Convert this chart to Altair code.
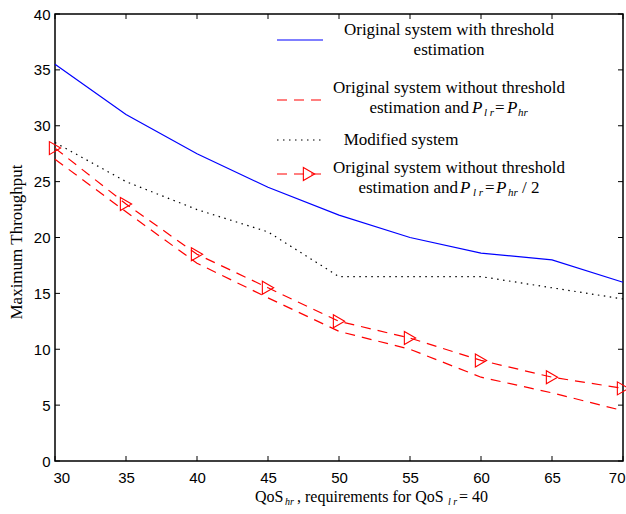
import altair as alt
import pandas as pd

# ---- data ----
qos_hr = [30, 35, 40, 45, 50, 55, 60, 65, 70]
thr_est = [35.5, 31.0, 27.5, 24.5, 22.0, 20.0, 18.6, 18.0, 16.0]
modified = [28.5, 25.0, 22.5, 20.5, 16.5, 16.5, 16.5, 15.5, 14.5]
no_thr_eq = [27.0, 22.3, 17.7, 14.6, 11.6, 10.0, 7.5, 6.1, 4.5]
no_thr_half = [28.0, 23.0, 18.5, 15.5, 12.5, 11.0, 9.0, 7.5, 6.5]
x_ticks = [30, 35, 40, 45, 50, 55, 60, 65, 70]
y_ticks = [0, 5, 10, 15, 20, 25, 30, 35, 40]

W, H = 568, 447
SERIF = "Liberation Serif"
SANS = "Liberation Sans"

df = pd.DataFrame({"x": qos_hr, "blue": thr_est, "mod": modified,
                   "eq": no_thr_eq, "half": no_thr_half})
xt = pd.DataFrame({"x": x_ticks})
yt = pd.DataFrame({"y": y_ticks})
one = pd.DataFrame({"t": [0]})

xs = alt.Scale(domain=[30, 70], nice=False)
ys = alt.Scale(domain=[0, 40], nice=False)
xaxis = alt.Axis(values=x_ticks, ticks=False, domain=False, grid=False,
                 labelFont=SANS, labelFontSize=15, labelColor="black",
                 labelPadding=9, labelFlush=True, labelFlushOffset=2, title="")
yaxis = alt.Axis(values=y_ticks, ticks=False, domain=False, grid=False,
                 labelFont=SANS, labelFontSize=15, labelColor="black",
                 labelPadding=5, title="")


def X(f="x"):
    return alt.X(f"{f}:Q", scale=xs, axis=xaxis)


def Y(f):
    return alt.Y(f"{f}:Q", scale=ys, axis=yaxis)


base = alt.Chart(df)
blue = base.mark_line(color="#0000ff", strokeWidth=1.2).encode(x=X(), y=Y("blue"))
mod = base.mark_line(color="black", strokeWidth=1.2, strokeDash=[1.5, 4.5]).encode(x=X(), y=Y("mod"))
eq = base.mark_line(color="#ff0000", strokeWidth=1.2, strokeDash=[10, 7]).encode(x=X(), y=Y("eq"))
half = base.mark_line(color="#ff0000", strokeWidth=1.2, strokeDash=[10, 7]).encode(x=X(), y=Y("half"))
half_pts = base.mark_point(shape="triangle-right", filled=False, color="#ff0000",
                           size=170, strokeWidth=1.1, opacity=1).encode(x=X(), y=Y("half"))

# inward ticks on all four sides
tb = alt.Chart(xt).mark_rule(color="black", strokeWidth=1).encode(x=X(), y=alt.value(H), y2=alt.value(H - 5))
tt = alt.Chart(xt).mark_rule(color="black", strokeWidth=1).encode(x=X(), y=alt.value(0), y2=alt.value(5))
tl = alt.Chart(yt).mark_rule(color="black", strokeWidth=1).encode(y=Y("y"), x=alt.value(0), x2=alt.value(5))
tr = alt.Chart(yt).mark_rule(color="black", strokeWidth=1).encode(y=Y("y"), x=alt.value(W), x2=alt.value(W - 5))


def txt(s, x, y, size=17, style="normal", align="left", dy=0, angle=0):
    return alt.Chart(one).mark_text(text=s, font=SERIF, fontSize=size, fontStyle=style,
                                    align=align, baseline="middle", dy=dy, angle=angle,
                                    color="black").encode(x=alt.value(x), y=alt.value(y))


def sample(y, color, dash=None):
    kw = dict(color=color, strokeWidth=1.2)
    if dash:
        kw["strokeDash"] = dash
    return alt.Chart(one).mark_rule(**kw).encode(x=alt.value(222), x2=alt.value(268), y=alt.value(y))


legend = [
    sample(26, "#0000ff"),
    txt("Original system with threshold", 394, 16, align="center"),
    txt("estimation", 394, 36, align="center"),
    sample(86, "#ff0000", [10, 7]),
    txt("Original system without threshold", 394, 74, align="center"),
    txt("estimation and", 414, 94, align="right"),
    txt("P", 417, 94, style="italic"),
    txt("l r", 429, 94, size=11, style="italic", dy=5),
    txt("=", 440, 94),
    txt("P", 452, 94, style="italic"),
    txt("hr", 463, 94, size=11, style="italic", dy=5),
    sample(126, "black", [1.5, 4.5]),
    txt("Modified system", 346, 126, align="center"),
    sample(160, "#ff0000", [10, 7]),
    alt.Chart(one).mark_point(shape="triangle-right", filled=False, color="#ff0000",
                              size=170, strokeWidth=1.1, opacity=1).encode(x=alt.value(254), y=alt.value(160)),
    txt("Original system without threshold", 394, 154, align="center"),
    txt("estimation and", 403, 174, align="right"),
    txt("P", 405, 174, style="italic"),
    txt("l r", 418, 174, size=11, style="italic", dy=5),
    txt("=", 430, 174),
    txt("P", 441, 174, style="italic"),
    txt("hr", 453, 174, size=11, style="italic", dy=5),
    txt("/ 2", 467, 174),
]

titles = [
    txt("QoS", 200, 483, size=16),
    txt("hr", 230, 483, size=10, style="italic", dy=5),
    txt(", requirements for QoS", 242, 483, size=16),
    txt("l r", 393, 483, size=10, style="italic", dy=5),
    txt(" = 40", 404, 483, size=16),
    txt("Maximum Throughput", -38, 228, size=17, align="center", angle=270),
]

chart = alt.layer(blue, mod, eq, half, half_pts, tb, tt, tl, tr, *legend, *titles).properties(
    width=W, height=H,
    autosize=alt.AutoSizeParams(type="none"),
    padding={"left": 55, "top": 14, "right": 3, "bottom": 53},
    background="white",
).configure_view(stroke="black", strokeWidth=1.5)

chart.save("out.html", embed_options={"renderer": "svg", "actions": False})
